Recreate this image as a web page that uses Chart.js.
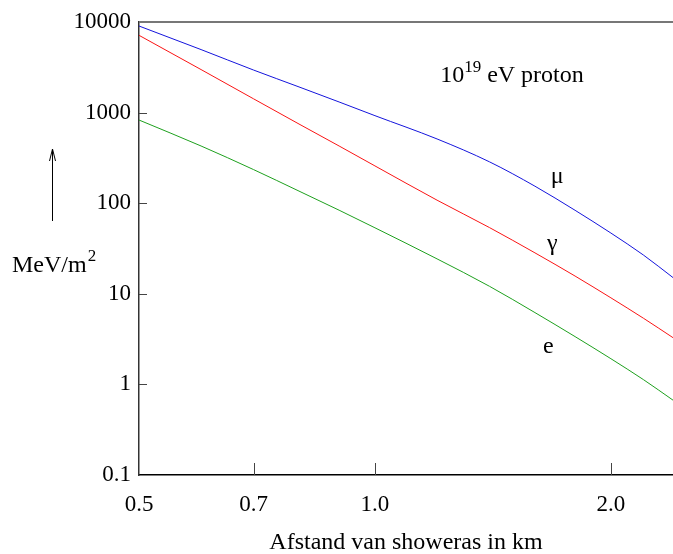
<!DOCTYPE html>
<html>
<head>
<meta charset="utf-8">
<script src="https://cdn.jsdelivr.net/npm/chart.js@4.4.0/dist/chart.umd.min.js"></script>
<style>
  html, body { margin: 0; padding: 0; background: #fff; overflow: hidden; }
</style>
</head>
<body>
<canvas id="shower-chart" width="673" height="554"></canvas>
<script>
// afstand tot de showeras (km) en energiedichtheid (MeV/m2)
const distances = [0.5, 0.6, 0.7, 0.8, 0.9, 1.0, 1.2, 1.4, 1.6, 1.8, 2.0, 2.2, 2.4];
const muonDensity = [9030, 4960, 2950, 1920, 1310, 925, 512, 286, 154, 83.5, 46.8, 26.8, 15.1];
const gammaDensity = [7130, 2985, 1420, 748, 428, 258, 108, 53.8, 28.3, 15.7, 9.02, 5.38, 3.28];
const electronDensity = [828, 428, 235, 136, 83.7, 53.5, 24.3, 12.1, 6.2, 3.37, 1.92, 1.13, 0.67];

const xTicks = [0.5, 0.7, 1.0, 2.0];
const yTicks = [0.1, 1, 10, 100, 1000, 10000];

const serif = 'Liberation Serif';

const toPoints = (values) => distances.map((d, i) => ({x: d, y: values[i]}));

const makeSet = (label, values, color) => ({
    label: label,
    data: toPoints(values),
    borderColor: color,
    borderWidth: 1,
    pointRadius: 0,
    fill: false,
    cubicInterpolationMode: 'monotone'
});

// teksten, pijl, bovenrand en ticks naar binnen
const decorations = {
    id: 'decorations',
    afterDraw(chart) {
        const {ctx, chartArea, scales: {x, y}} = chart;
        const line = (x1, y1, x2, y2) => {
            ctx.beginPath();
            ctx.moveTo(x1, y1);
            ctx.lineTo(x2, y2);
            ctx.stroke();
        };
        ctx.save();

        ctx.strokeStyle = '#777';
        ctx.lineWidth = 2;
        line(chartArea.left, chartArea.top, chartArea.right, chartArea.top);

        ctx.strokeStyle = '#444';
        ctx.lineWidth = 1;
        yTicks.slice(1, -1).forEach(v => {
            const py = Math.round(y.getPixelForValue(v)) + 0.5;
            line(chartArea.left, py, chartArea.left + 8, py);
        });
        xTicks.slice(1).forEach(v => {
            const px = Math.round(x.getPixelForValue(v)) + 0.5;
            line(px, chartArea.bottom, px, chartArea.bottom - 12);
        });

        ctx.fillStyle = '#000';
        ctx.textBaseline = 'alphabetic';

        // 10^19 eV proton
        let px = x.getPixelForValue(1.211);
        let py = y.getPixelForValue(2180);
        ctx.font = '24px ' + serif;
        ctx.textAlign = 'left';
        ctx.fillText('10', px, py);
        px += ctx.measureText('10').width;
        ctx.font = '17px ' + serif;
        ctx.fillText('19', px, py - 10);
        px += ctx.measureText('19').width;
        ctx.font = '24px ' + serif;
        ctx.fillText(' eV proton', px, py);

        // curve labels
        ctx.textAlign = 'center';
        ctx.textBaseline = 'middle';
        ctx.fillText('\u03bc', x.getPixelForValue(1.708), y.getPixelForValue(194));
        ctx.fillText('\u03b3', x.getPixelForValue(1.683), y.getPixelForValue(35.5));
        ctx.fillText('e', x.getPixelForValue(1.664), y.getPixelForValue(2.59));

        // y-as titel met pijl
        ctx.textAlign = 'left';
        ctx.textBaseline = 'alphabetic';
        ctx.fillText('MeV/m', 12, 272);
        const w = ctx.measureText('MeV/m').width;
        ctx.font = '17px ' + serif;
        ctx.fillText('2', 12 + w + 1, 261);

        ctx.strokeStyle = '#000';
        line(52.5, 221, 52.5, 149);
        line(52.5, 149, 49.5, 161);
        line(52.5, 149, 55.5, 161);

        // x-as titel, gecentreerd onder het plotgebied
        ctx.font = '24px ' + serif;
        ctx.textAlign = 'center';
        ctx.fillText('Afstand van showeras in km', (chartArea.left + chartArea.right) / 2, 549);

        ctx.restore();
    }
};

const config = {
    type: 'line',
    data: {
        datasets: [
            makeSet('\u03bc', muonDensity, 'rgb(20, 20, 220)'),
            makeSet('\u03b3', gammaDensity, 'rgb(250, 20, 20)'),
            makeSet('e', electronDensity, 'rgb(30, 160, 30)')
        ]
    },
    options: {
        responsive: false,
        animation: false,
        layout: {
            padding: {top: 22, right: 0, left: 0, bottom: 0}
        },
        plugins: {
            legend: {display: false},
            tooltip: {enabled: false}
        },
        scales: {
            x: {
                type: 'logarithmic',
                min: 0.5,
                max: 2.4,
                afterBuildTicks: (s) => { s.ticks = xTicks.map(v => ({value: v})); },
                afterFit: (s) => { s.height = 79; },
                ticks: {
                    callback: (v) => Number(v).toFixed(1),
                    font: {family: serif, size: 23},
                    color: '#000',
                    padding: 16,
                    maxRotation: 0,
                    autoSkip: false
                },
                grid: {display: true, drawOnChartArea: false, drawTicks: false},
                border: {color: '#000', width: 1.5}
            },
            y: {
                type: 'logarithmic',
                min: 0.1,
                max: 10000,
                afterBuildTicks: (s) => { s.ticks = yTicks.map(v => ({value: v})); },
                afterFit: (s) => { s.width = 139; },
                ticks: {
                    callback: (v) => String(v),
                    font: {family: serif, size: 23},
                    color: '#000',
                    padding: 8,
                    autoSkip: false
                },
                grid: {display: true, drawOnChartArea: false, drawTicks: false},
                border: {color: '#333', width: 1.5}
            }
        }
    },
    plugins: [decorations]
};

const ctx = document.getElementById('shower-chart').getContext('2d');
new Chart(ctx, config);
</script>
</body>
</html>
